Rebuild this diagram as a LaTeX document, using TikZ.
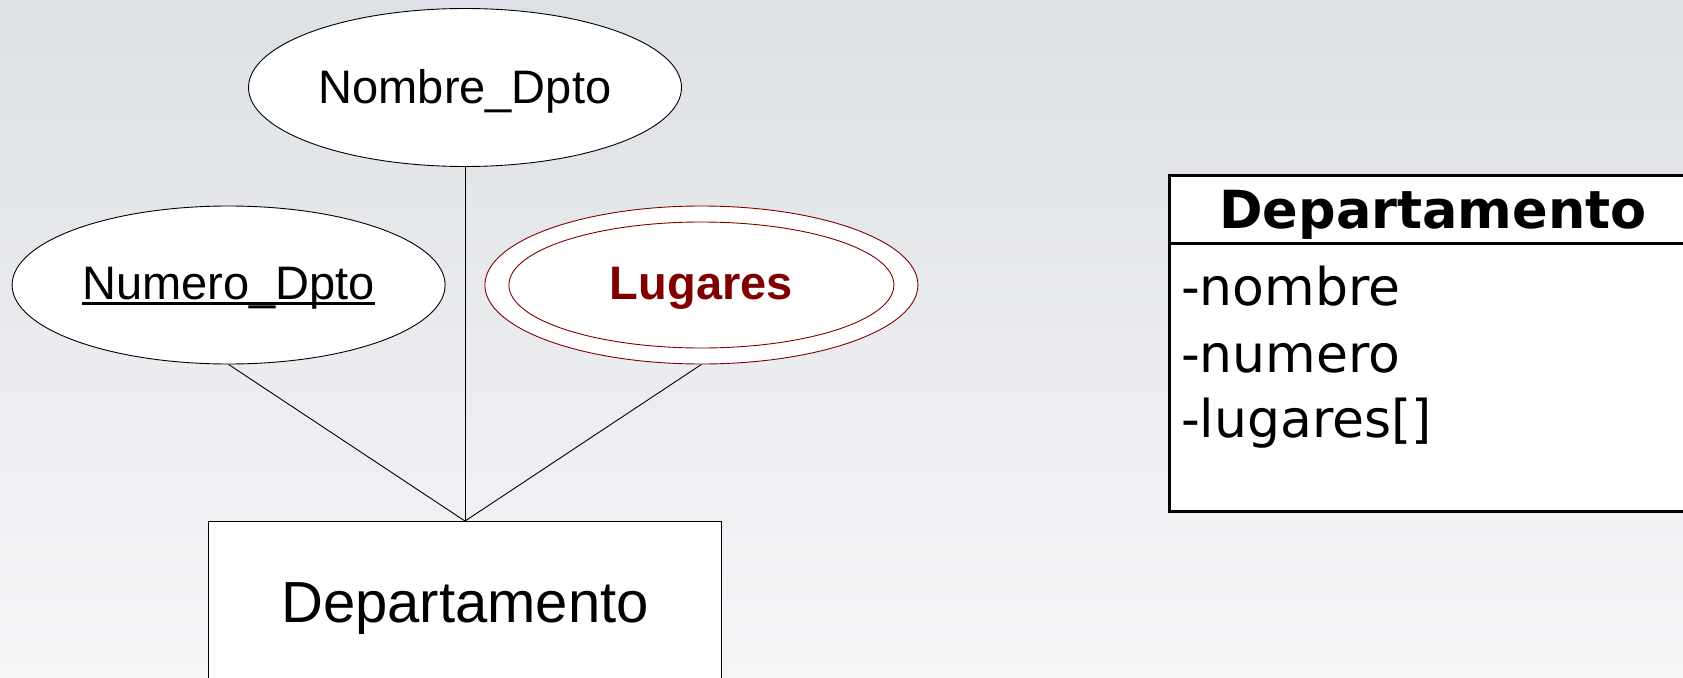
\documentclass[tikz,border=0pt]{standalone}
\usepackage{fontspec}
\setmainfont{Liberation Sans}
\newfontfamily\umlfont{DejaVu Sans}
\usetikzlibrary{shapes.geometric}
\definecolor{bgtop}{HTML}{DDE0E4}
\definecolor{bgbottom}{HTML}{F5F6F8}
\definecolor{multival}{HTML}{800000}
% atributo clave: subrayado grueso
\newcommand{\clave}[1]{\setbox0\hbox{#1}\rlap{\rule[-5pt]{\wd0}{2.6pt}}\box0}
\tikzset{
  atributo/.style={ellipse, draw=black, fill=white, inner sep=0pt, line width=0.9pt, text depth=3pt,
    minimum width=433, minimum height=158, font=\fontsize{47}{50}\selectfont},
  entidad/.style={rectangle, draw=black, fill=white, inner sep=0pt, line width=0.9pt, text depth=5pt,
    minimum width=513, minimum height=167, font=\fontsize{58}{62}\selectfont},
  umltxt/.style={inner sep=0pt, font=\umlfont\fontsize{52}{56}\selectfont}
}
\begin{document}
\begin{tikzpicture}[x=1pt,y=1pt]
\useasboundingbox (0,0) rectangle (1683,-677);
\shade [top color=bgtop, bottom color=bgbottom] (0,0) rectangle (1683,-677);
\begin{scope}
\clip (0,0) rectangle (1683,-677);
% modelo E-R
\node [entidad] (depto) at (465,-605) {Departamento};
\node [atributo] (nombre) at (465,-87.5) {Nombre\_Dpto};
\node [atributo] (numero) at (228.6,-285) {\clave{Numero\_Dpto}};
\node [atributo, draw=multival] (lugares) at (701.4,-285) {};
\node [ellipse, draw=multival, line width=0.9pt, inner sep=0pt, minimum width=385, minimum height=126, text depth=3pt,
  font=\bfseries\fontsize{47}{50}\selectfont, text=multival] (lugaresin) at (lugares.center) {Lugares};
\draw [black, line width=0.9pt] (nombre.south) -- (depto.north);
\draw [black, line width=0.9pt] (numero.south) -- (depto.north);
\draw [black, line width=0.9pt] (lugares.south) -- (depto.north);
% clase UML
\draw [black, line width=3pt, fill=white] (1169,-175) rectangle (1700,-511.5);
\draw [black, line width=3pt] (1169,-243) -- (1700,-243);
\node [umltxt, font=\umlfont\bfseries\fontsize{52.5}{56}\selectfont, anchor=base] (clase) at (1433,-228) {Departamento};
\node [umltxt, anchor=base west] (atr1) at (1181,-305.5) {-nombre};
\node [umltxt, anchor=base west] (atr2) at (1181,-372) {-numero};
\node [umltxt, anchor=base west] (atr3) at (1181,-437) {-lugares[]};
\end{scope}
\end{tikzpicture}
\end{document}
